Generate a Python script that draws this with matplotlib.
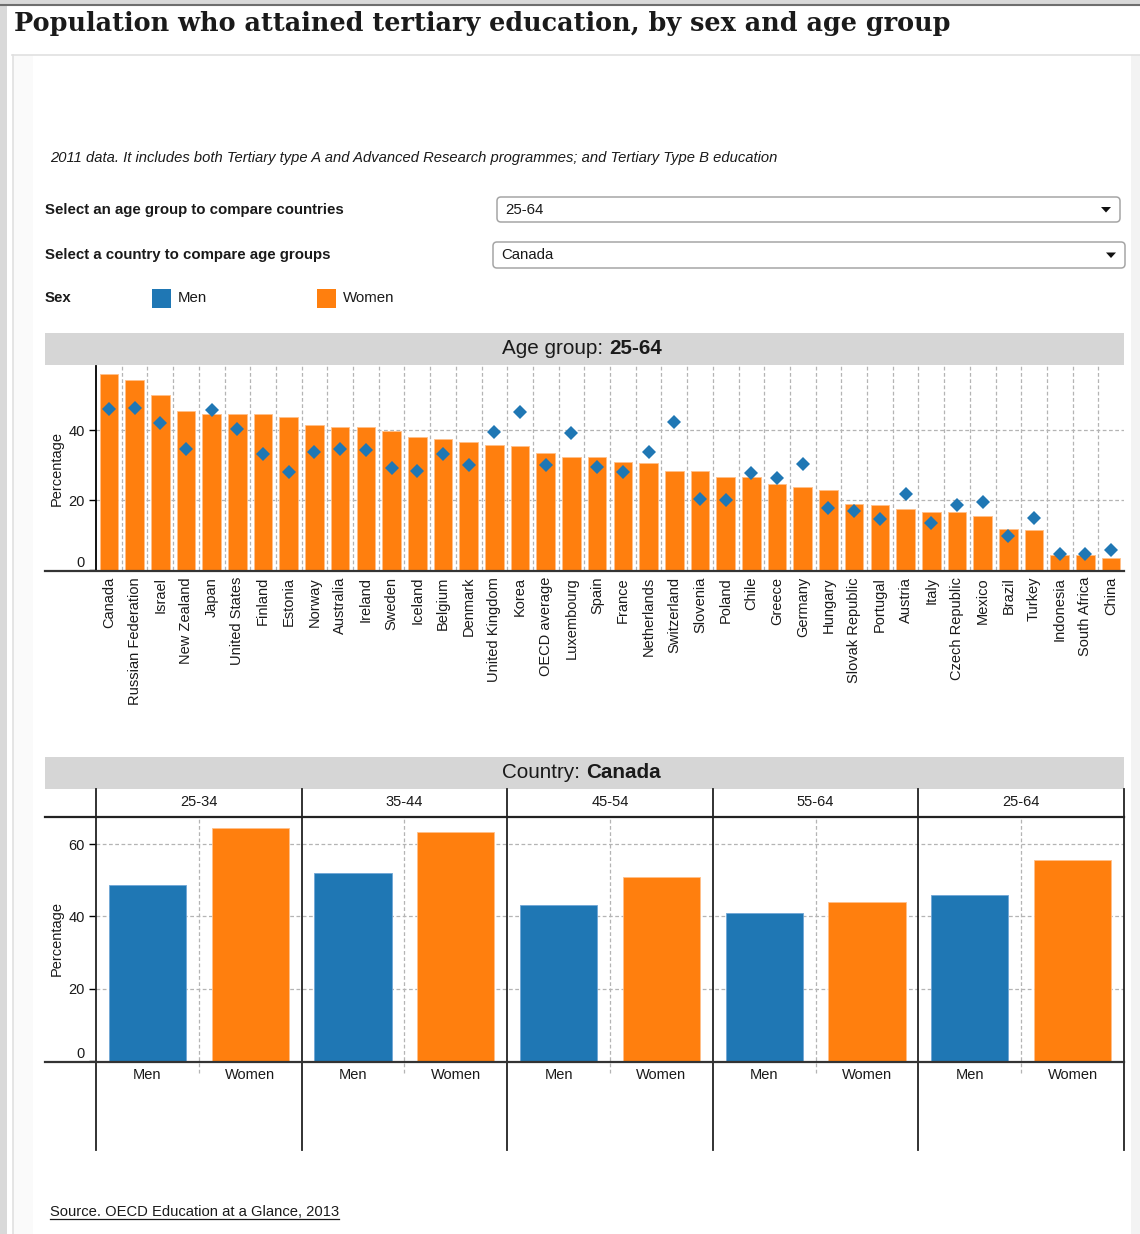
import matplotlib
matplotlib.use("Agg")
import matplotlib.pyplot as plt
from matplotlib.patches import Rectangle, FancyBboxPatch, Polygon
import matplotlib.transforms as mtransforms
import numpy as np

W, H = 1140, 1234

# Age group 25-64, sorted by women's attainment (bars = women, diamonds = men)
countries = ["Canada", "Russian Federation", "Israel", "New Zealand", "Japan",
             "United States", "Finland", "Estonia", "Norway", "Australia",
             "Ireland", "Sweden", "Iceland", "Belgium", "Denmark",
             "United Kingdom", "Korea", "OECD average", "Luxembourg", "Spain",
             "France", "Netherlands", "Switzerland", "Slovenia", "Poland",
             "Chile", "Greece", "Germany", "Hungary", "Slovak Republic",
             "Portugal", "Austria", "Italy", "Czech Republic", "Mexico",
             "Brazil", "Turkey", "Indonesia", "South Africa", "China"]
women_2564 = [55.9, 54.3, 49.9, 45.3, 44.5, 44.5, 44.5, 43.7, 41.3, 40.9,
              40.9, 39.8, 38.1, 37.3, 36.5, 35.7, 35.3, 33.3, 32.2, 32.2,
              30.9, 30.7, 28.2, 28.2, 26.7, 26.7, 24.7, 23.6, 22.8, 18.9,
              18.5, 17.3, 16.5, 16.5, 15.3, 11.7, 11.3, 4.3, 4.3, 3.5]
men_2564 = [46.0, 46.4, 41.9, 34.7, 45.7, 40.4, 33.2, 27.9, 33.7, 34.7,
            34.4, 29.2, 28.4, 33.2, 30.0, 39.3, 45.1, 30.0, 39.1, 29.5,
            28.1, 33.6, 42.4, 20.4, 19.9, 27.6, 26.4, 30.4, 17.7, 17.0,
            14.6, 21.7, 13.4, 18.6, 19.5, 9.8, 14.9, 4.5, 4.5, 5.8]

# Canada by age group
age_groups = ["25-34", "35-44", "45-54", "55-64", "25-64"]
canada_men = [48.8, 52.0, 43.1, 40.9, 45.8]
canada_women = [64.5, 63.4, 50.8, 43.9, 55.7]
sexes = ["Men", "Women"]

BLUE = "#1f77b4"
ORANGE = "#ff7f0e"
BAND = "#d6d6d6"
GRID = "#b4b4b4"
INK = "#1a1a1a"
UI = 10.8     # form / legend text size
TICK = 10.5   # axis tick label size

plt.rcParams['font.family'] = ['Liberation Sans', 'DejaVu Sans']

fig = plt.figure(figsize=(W / 100, H / 100), dpi=100)
fig.patch.set_facecolor("white")


def rect(x0, y0, x1, y1):
    # pixel box (top-left origin) -> figure fraction
    return [x0 / W, 1 - y1 / H, (x1 - x0) / W, (y1 - y0) / H]


# background / overlay axes in pixel coordinates
bg = fig.add_axes([0, 0, 1, 1], zorder=0)
bg.set_xlim(0, W)
bg.set_ylim(H, 0)
bg.axis("off")
fg = fig.add_axes([0, 0, 1, 1], zorder=5)
fg.set_xlim(0, W)
fg.set_ylim(H, 0)
fg.axis("off")

# page frame
bg.add_patch(Rectangle((0, 0), W, 4, color="#d9d9d9", lw=0))
bg.add_patch(Rectangle((0, 0), 7, H, color="#d9d9d9", lw=0))
bg.add_patch(Rectangle((13, 55), 20, H - 55, color="#fafafa", lw=0))
bg.add_patch(Rectangle((1131, 55), 9, H - 55, color="#f3f3f3", lw=0))
bg.plot([0, W], [4.5, 4.5], color="#6e6e6e", lw=1.5)
bg.plot([12, W], [54.5, 54.5], color="#e0e0e0", lw=1.2)
bg.plot([12.5, 12.5], [54.5, H], color="#e0e0e0", lw=1.2)

# title
fg.text(14, 23, "Population who attained tertiary education, by sex and age group",
        family="DejaVu Serif", fontweight="bold", fontsize=18.4, color=INK,
        va="center", ha="left")

fg.text(50, 158, "2011 data. It includes both Tertiary type A and Advanced Research "
        "programmes; and Tertiary Type B education",
        style="italic", fontsize=10.6, color=INK, va="center")

# controls
fg.text(45, 210, "Select an age group to compare countries", fontweight="bold",
        fontsize=UI, color=INK, va="center")
fg.text(45, 255, "Select a country to compare age groups", fontweight="bold",
        fontsize=UI, color=INK, va="center")
for (x0, y0, x1, y1, label) in [(497, 197, 1120, 222, "25-64"),
                                 (493, 242, 1125, 268, "Canada")]:
    fg.add_patch(FancyBboxPatch((x0, y0), x1 - x0, y1 - y0,
                                boxstyle="round,pad=0,rounding_size=4",
                                facecolor="white", edgecolor="#a5a5a5", lw=1.1))
    fg.text(x0 + 8, (y0 + y1) / 2, label, fontsize=UI, color=INK, va="center")
    cx, cy = x1 - 14, (y0 + y1) / 2
    fg.add_patch(Polygon([(cx - 5, cy - 2.5), (cx + 5, cy - 2.5), (cx, cy + 3)],
                         closed=True, color="#111111", lw=0))

# legend
fg.text(45, 298, "Sex", fontweight="bold", fontsize=UI, color=INK, va="center")
fg.add_patch(Rectangle((152, 289), 19, 19, color=BLUE, lw=0))
fg.text(178, 298, "Men", fontsize=UI, color=INK, va="center")
fg.add_patch(Rectangle((317, 289), 19, 19, color=ORANGE, lw=0))
fg.text(343, 298, "Women", fontsize=UI, color=INK, va="center")

# ---------- top chart: countries ----------
bg.add_patch(Rectangle((45, 333), 1124 - 45, 32, color=BAND, lw=0))
fg.text(609, 348, "Age group: ", fontsize=14.9, color=INK, ha="right", va="center")
fg.text(609, 348, "25-64", fontsize=14.9, fontweight="bold", color=INK,
        ha="left", va="center")

ax1 = fig.add_axes(rect(96, 366, 1124, 570), zorder=2)
ax1.patch.set_alpha(0)
x = np.arange(len(countries))
ax1.bar(x, women_2564, width=0.72, color=ORANGE, edgecolor="#ffc08a",
        linewidth=0.6, zorder=2)
ax1.plot(x, men_2564, "D", color=BLUE, markersize=7, markeredgewidth=0, zorder=3)
ax1.set_xlim(-0.5, len(countries) - 0.5)
ax1.set_ylim(0, 58.3)
for b in x[:-1] + 0.5:
    ax1.axvline(b, color=GRID, ls=(0, (3, 2)), lw=0.9, zorder=1)
for v in [20, 40]:
    ax1.axhline(v, color=GRID, ls=(0, (3, 2)), lw=0.9, zorder=1)
ax1.set_xticks(x)
ax1.set_xticklabels(countries, rotation=90, fontsize=TICK, color=INK)
ax1.set_yticks([0, 20, 40])
ax1.set_yticklabels(["0", "20", "40"], fontsize=TICK, color=INK)
ax1.get_yticklabels()[0].set_verticalalignment("bottom")
ax1.tick_params(axis="x", length=0, pad=5)
ax1.tick_params(axis="y", length=5, width=1, pad=3)
for s in ["top", "right", "bottom"]:
    ax1.spines[s].set_visible(False)
ax1.spines["left"].set_linewidth(1.3)
ax1.set_ylabel("Percentage", fontsize=TICK, color=INK)
ax1.yaxis.set_label_coords((64 - 96) / 1028, 0.5)
fg.plot([45, 1124], [570.5, 570.5], color="#333333", lw=1.6)

# ---------- bottom chart: Canada by age group ----------
bg.add_patch(Rectangle((45, 757), 1124 - 45, 32, color=BAND, lw=0))
fg.text(586, 772, "Country: ", fontsize=14.9, color=INK, ha="right", va="center")
fg.text(586, 772, "Canada", fontsize=14.9, fontweight="bold", color=INK,
        ha="left", va="center")

ax2 = fig.add_axes(rect(96, 817, 1124, 1061), zorder=2)
ax2.patch.set_alpha(0)
pos = np.arange(len(age_groups) * 2)
ax2.bar(pos[0::2], canada_men, width=0.75, color=BLUE, edgecolor="#6fa6d6",
        linewidth=0.6, zorder=2)
ax2.bar(pos[1::2], canada_women, width=0.75, color=ORANGE, edgecolor="#ffc08a",
        linewidth=0.6, zorder=2)
ax2.set_xlim(-0.5, len(pos) - 0.5)
ax2.set_ylim(0, 67.5)
for v in [20, 40, 60]:
    ax2.axhline(v, color=GRID, ls=(0, (3, 2)), lw=0.9, zorder=1)
for b in pos[0::2] + 0.5:
    ax2.axvline(b, ymin=-0.05, ymax=1, color=GRID, ls=(0, (3, 2)), lw=0.9,
                zorder=1, clip_on=False)
# solid panel separators, header row to bottom of the frame
y_top = (1061 - 789) / 244
y_bot = (1061 - 1150) / 244
for b in np.append(pos[0::2] - 0.5, len(pos) - 0.5):
    ax2.axvline(b, ymin=y_bot, ymax=y_top, color="#222222", lw=1.3,
                clip_on=False, zorder=4)
hdr = mtransforms.blended_transform_factory(ax2.transData, ax2.transAxes)
for i, g in enumerate(age_groups):
    ax2.text(2 * i + 0.5, (1061 - 802) / 244, g, transform=hdr, fontsize=TICK,
             color=INK, ha="center", va="center")
ax2.set_xticks(pos)
ax2.set_xticklabels(sexes * len(age_groups), fontsize=TICK, color=INK)
ax2.set_yticks([0, 20, 40, 60])
ax2.set_yticklabels(["0", "20", "40", "60"], fontsize=TICK, color=INK)
ax2.get_yticklabels()[0].set_verticalalignment("bottom")
ax2.tick_params(axis="x", length=0, pad=5)
ax2.tick_params(axis="y", length=5, width=1, pad=3)
for s in ax2.spines.values():
    s.set_visible(False)
ax2.set_ylabel("Percentage", fontsize=TICK, color=INK)
ax2.yaxis.set_label_coords((64 - 96) / 1028, 0.5)
fg.plot([45, 1124], [817, 817], color="#222222", lw=1.6)
fg.plot([45, 1124], [1061.5, 1061.5], color="#333333", lw=1.6)

# source, underlined
src = fg.text(50, 1212, "Source. OECD Education at a Glance, 2013", fontsize=10.6,
              color=INK, va="center")
fig.canvas.draw()
bb = src.get_window_extent().transformed(fg.transData.inverted())
fg.plot([bb.x0, bb.x1], [1219, 1219], color=INK, lw=0.9)

fig.savefig("out.png", dpi=100)
